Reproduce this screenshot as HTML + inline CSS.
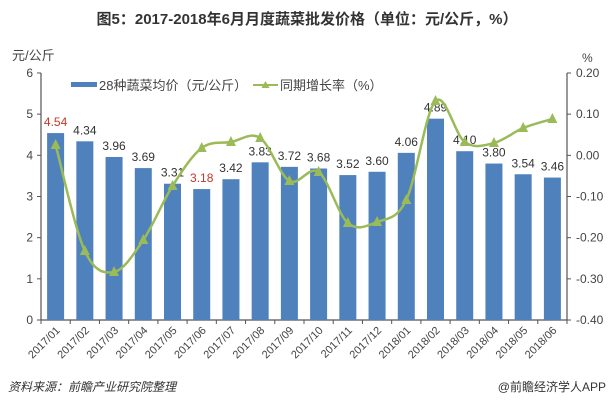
<!DOCTYPE html>
<html><head><meta charset="utf-8"><style>
body{margin:0;background:#fff;}
svg{display:block;font-family:"Liberation Sans","Noto Sans CJK SC",sans-serif;}
</style></head><body>
<svg width="614" height="404" viewBox="0 0 614 404" xmlns="http://www.w3.org/2000/svg">
<rect width="614" height="404" fill="#fff"/>
<text x="307" y="24" text-anchor="middle" font-size="15" font-weight="bold" fill="#333">图5：2017-2018年6月月度蔬菜批发价格（单位：元/公斤，%）</text>
<text x="12" y="60" font-size="13" fill="#444">元/公斤</text>
<text x="582" y="62" font-size="12" fill="#444">%</text>
<rect x="71" y="82" width="26" height="5" fill="#4f81bd"/>
<text x="99" y="90" font-size="13" fill="#444">28种蔬菜均价（元/公斤）</text>
<line x1="253" y1="85" x2="278" y2="85" stroke="#9bbb59" stroke-width="2"/>
<polygon points="265.5,81 269.5,88 261.5,88" fill="#9bbb59"/>
<text x="280" y="90" font-size="13" fill="#444">同期增长率（%）</text>
<g stroke="#555" stroke-width="1.2">
<line x1="41" y1="73" x2="41" y2="320"/>
<line x1="567" y1="73" x2="567" y2="320"/>
<line x1="41" y1="320" x2="567" y2="320"/>
</g>
<g id="chart"></g>
<text x="8" y="391" font-size="12" font-style="italic" fill="#333">资料来源：前瞻产业研究院整理</text>
<text x="606" y="391" font-size="12" text-anchor="end" fill="#333">@前瞻经济学人APP</text>
<script>
var ns="http://www.w3.org/2000/svg",c=document.getElementById('chart');
function el(t,a,txt){var e=document.createElementNS(ns,t);for(var k in a)e.setAttribute(k,a[k]);if(txt!=null)e.textContent=txt;c.appendChild(e);return e;}
var y0=320,k=41.17;
for(var i=0;i<=6;i++){var y=y0-i*k;el('line',{x1:37,y1:y,x2:41,y2:y,stroke:'#555'});el('text',{x:33,y:y+4,'font-size':12,fill:'#444','text-anchor':'end'},i);
var p=(0.2-i*0.1).toFixed(2);var yr=73+i*41.17;el('line',{x1:567,y1:yr,x2:571,y2:yr,stroke:'#555'});el('text',{x:576,y:yr+4,'font-size':12,fill:'#444'},p);}
var v=[4.54,4.34,3.96,3.69,3.31,3.18,3.42,3.83,3.72,3.68,3.52,3.60,4.06,4.89,4.10,3.80,3.54,3.46];
var lab=['2017/01','2017/02','2017/03','2017/04','2017/05','2017/06','2017/07','2017/08','2017/09','2017/10','2017/11','2017/12','2018/01','2018/02','2018/03','2018/04','2018/05','2018/06'];
var ly=[145,251,272,240,186,148,142,138,181,172,223,222,200,101,142,143,128,119];
var w=526/18,pts=[];
for(var i=0;i<18;i++){var cx=41+w*(i+0.5);var h=v[i]*k;
el('rect',{x:cx-8.5,y:y0-h,width:17,height:h,fill:'#4f81bd'});
var red=(i==0||i==5);
el('text',{x:cx,y:y0-h-7,'font-size':12,'text-anchor':'middle',fill:red?'#c0392b':'#333'},v[i].toFixed(2));
el('line',{x1:41+w*i,y1:320,x2:41+w*i,y2:324,stroke:'#555'});
el('text',{x:cx+5,y:331,'font-size':11,fill:'#444','text-anchor':'end',transform:'rotate(-45 '+(cx+5)+' 331)'},lab[i]);
pts.push([cx,ly[i]]);}
el('line',{x1:567,y1:320,x2:567,y2:324,stroke:'#555'});
var d='M'+pts[0][0]+','+pts[0][1];
for(var i=0;i<17;i++){var p0=pts[Math.max(i-1,0)],p1=pts[i],p2=pts[i+1],p3=pts[Math.min(i+2,17)];
d+=' C'+(p1[0]+(p2[0]-p0[0])/6)+','+(p1[1]+(p2[1]-p0[1])/6)+' '+(p2[0]-(p3[0]-p1[0])/6)+','+(p2[1]-(p3[1]-p1[1])/6)+' '+p2[0]+','+p2[1];}
el('path',{d:d,fill:'none',stroke:'#9bbb59','stroke-width':2.5});
pts.forEach(function(p){el('polygon',{points:p[0]+','+(p[1]-6)+' '+(p[0]+5)+','+(p[1]+4)+' '+(p[0]-5)+','+(p[1]+4),fill:'#9bbb59'});});
</script>
</svg>
</body></html>
